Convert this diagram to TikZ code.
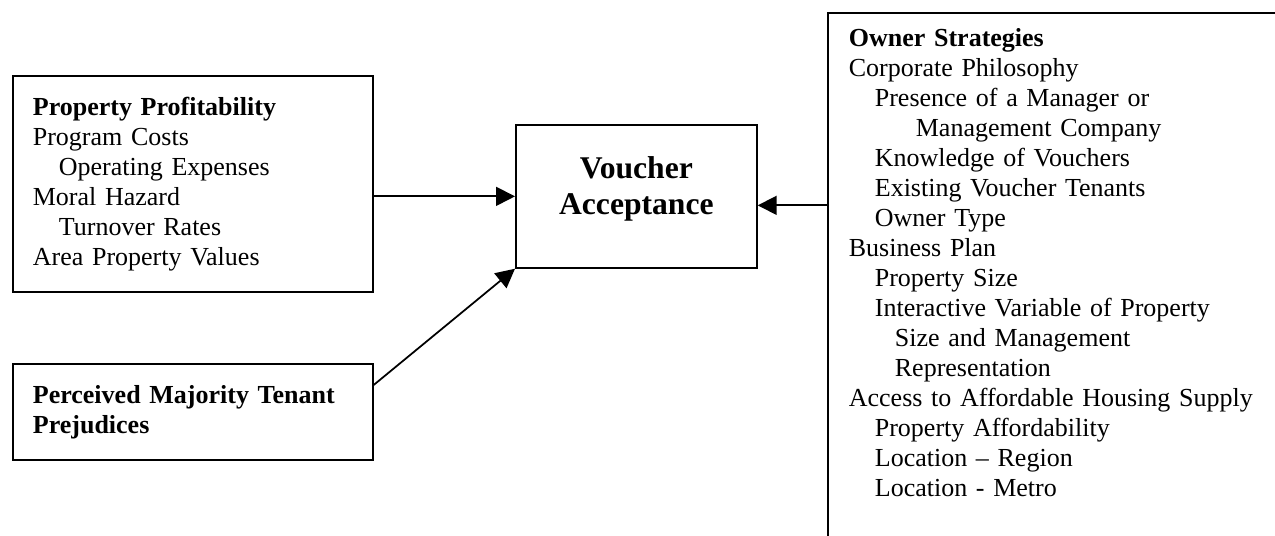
\documentclass[tikz,border=0pt]{standalone}
\usepackage{fontspec}
\setmainfont{Liberation Serif}
\usepackage{tikz}
\usetikzlibrary{
	arrows.meta,
	positioning
}

\begin{document}
\begin{tikzpicture}[
			x=0.02cm, y=-0.02cm,
			font=\fontsize{14.8}{17.07}\selectfont,
			box/.style={draw, line width=1pt, anchor=north west, align=left, inner xsep=0.4cm},
			mid/.style={draw, line width=1pt, anchor=north west, minimum width=4.82cm, minimum height=2.86cm},
			midtxt/.style={align=center, font=\fontsize{18}{20.7}\selectfont\bfseries},
			>={Triangle[length=0.38cm, width=0.38cm]},
			fl/.style={->, line width=1pt}
		]

		\useasboundingbox (0,0) rectangle (1275,536);
		\clip (0,0) rectangle (1275,536);

		\node[box, minimum width=7.2cm, minimum height=4.32cm, text width=6.4cm] (prof) at (12,75)
			{\textbf{Property Profitability}\\
			Program Costs\\
			\hspace*{0.52cm}Operating Expenses\\
			Moral Hazard\\
			\hspace*{0.52cm}Turnover Rates\\
			Area Property Values};

		\node[box, minimum width=7.2cm, minimum height=1.92cm, text width=6.4cm] (prej) at (12,363)
			{\textbf{Perceived Majority Tenant}\\
			\textbf{Prejudices}\\[0.1cm]};

		\node[mid] (vouch) at (515,124) {};
		\node[midtxt] (vouchtxt) at ([yshift=0.15cm]vouch.center) {Voucher\\ Acceptance};

		\node[box, text width=9.4cm, inner xsep=0.42cm, inner ysep=0.32cm] (owner) at (827,12)
			{\textbf{Owner Strategies}\\
			Corporate Philosophy\\
			\hspace*{0.52cm}Presence of a Manager or\\
			\hspace*{1.34cm}Management Company\\
			\hspace*{0.52cm}Knowledge of Vouchers\\
			\hspace*{0.52cm}Existing Voucher Tenants\\
			\hspace*{0.52cm}Owner Type\\
			Business Plan\\
			\hspace*{0.52cm}Property Size\\
			\hspace*{0.52cm}Interactive Variable of Property\\
			\hspace*{0.92cm}Size and Management\\
			\hspace*{0.92cm}Representation\\
			Access to Affordable Housing Supply\\
			\hspace*{0.52cm}Property Affordability\\
			\hspace*{0.52cm}Location -- Region\\
			\hspace*{0.52cm}Location - Metro\\
			\mbox{}\\
			\mbox{}};

		\draw[fl] (prof.east |- vouch.west) -- (vouch.west);
		\draw[fl] ([yshift=-0.18cm]vouch.east -| owner.west) -- ([yshift=-0.18cm]vouch.east);
		\draw[fl] ([yshift=-0.44cm]prej.north east) -- (vouch.south west);
	\end{tikzpicture}
\end{document}
